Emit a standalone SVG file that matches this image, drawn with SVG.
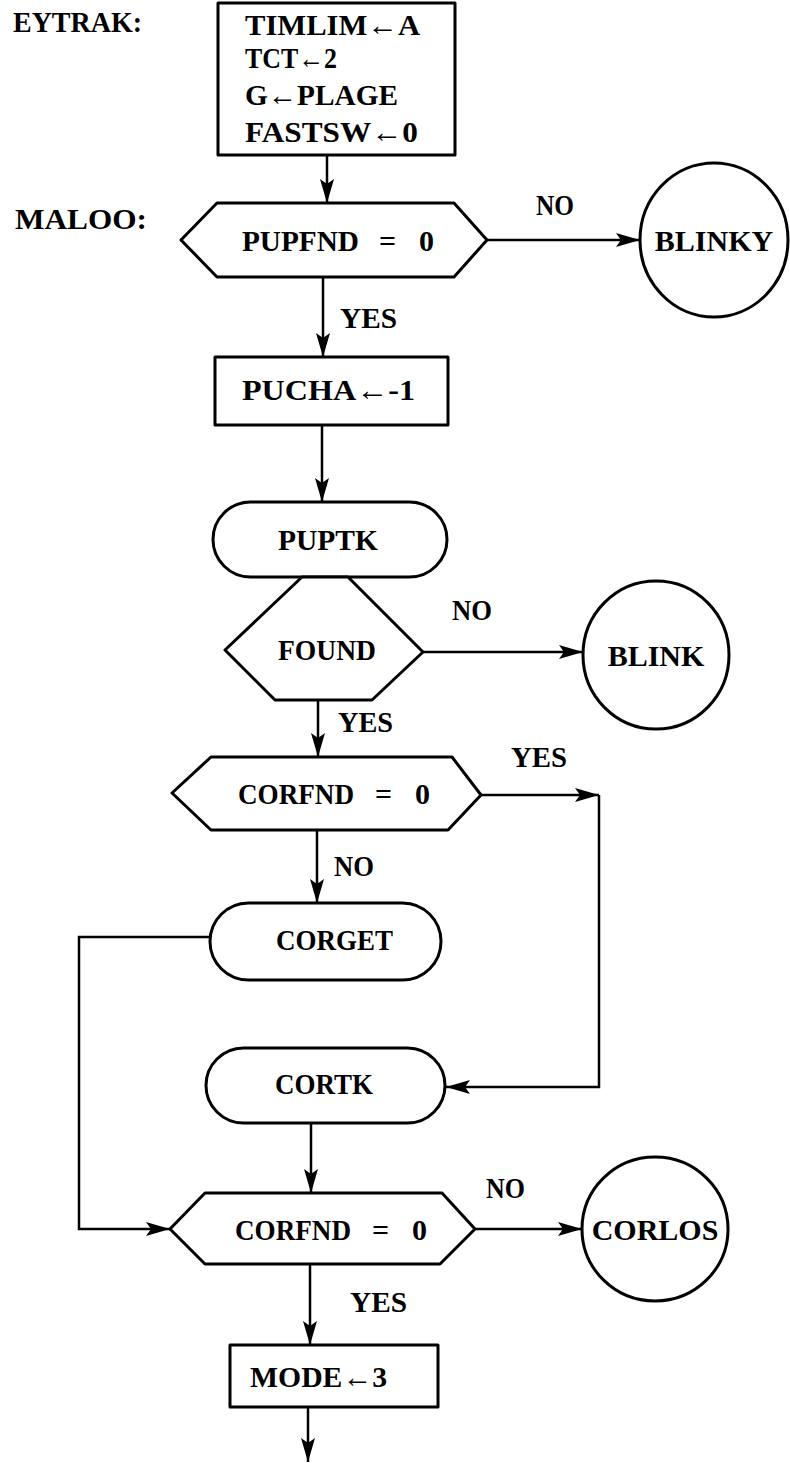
<svg xmlns="http://www.w3.org/2000/svg" width="790" height="1463" viewBox="0 0 790 1463">
<defs>
<marker id="ah" markerUnits="userSpaceOnUse" markerWidth="26" markerHeight="16" refX="24" refY="7" orient="auto">
<path d="M0,0 L24,7 L0,14 L5,7 z" fill="#000"/>
</marker>
<style>
.s{fill:#fff;stroke:#000;stroke-width:3;stroke-linejoin:round}
.c{fill:none;stroke:#000;stroke-width:2.5}
text{font-family:"Liberation Serif","DejaVu Serif",serif;font-weight:bold;font-size:30px;fill:#000}
.m{text-anchor:middle}
</style>
</defs>
<rect width="790" height="1463" fill="#fff"/>
<text x="13" y="32" textLength="129" lengthAdjust="spacingAndGlyphs">EYTRAK:</text>
<text x="15" y="229" textLength="132" lengthAdjust="spacingAndGlyphs">MALOO:</text>
<g id="connectors">
<path class="c" d="M327,155 V203" marker-end="url(#ah)"/>
<path class="c" d="M487,240 H640" marker-end="url(#ah)"/>
<path class="c" d="M323,277 V357" marker-end="url(#ah)"/>
<path class="c" d="M322,425 V502" marker-end="url(#ah)"/>
<path class="c" d="M423,652 H583" marker-end="url(#ah)"/>
<path class="c" d="M318,700 V757" marker-end="url(#ah)"/>
<path class="c" d="M481,795 H599" marker-end="url(#ah)"/>
<path class="c" d="M599,795 V1087 H446" marker-end="url(#ah)"/>
<path class="c" d="M317,830 V903" marker-end="url(#ah)"/>
<path class="c" d="M210,937 H79 V1229 H170" marker-end="url(#ah)"/>
<path class="c" d="M311,1123 V1193" marker-end="url(#ah)"/>
<path class="c" d="M475,1229 H582" marker-end="url(#ah)"/>
<path class="c" d="M310,1264 V1345" marker-end="url(#ah)"/>
<path class="c" d="M308,1407 V1462" marker-end="url(#ah)"/>
<text x="536" y="215" textLength="38" lengthAdjust="spacingAndGlyphs">NO</text>
<text x="340" y="328" textLength="57" lengthAdjust="spacingAndGlyphs">YES</text>
<text x="452" y="620" textLength="40" lengthAdjust="spacingAndGlyphs">NO</text>
<text x="338" y="732" textLength="55" lengthAdjust="spacingAndGlyphs">YES</text>
<text x="511" y="767" textLength="56" lengthAdjust="spacingAndGlyphs">YES</text>
<text x="334" y="876" textLength="40" lengthAdjust="spacingAndGlyphs">NO</text>
<text x="486" y="1198" textLength="39" lengthAdjust="spacingAndGlyphs">NO</text>
<text x="350" y="1312" textLength="57" lengthAdjust="spacingAndGlyphs">YES</text>
</g>
<g id="eytrak">
<rect class="s" x="218" y="3" width="237" height="152"/>
<text x="245" y="35" textLength="175" lengthAdjust="spacingAndGlyphs">TIMLIM←A</text>
<text x="245" y="68" textLength="92" lengthAdjust="spacingAndGlyphs">TCT←2</text>
<text x="245" y="105" textLength="153" lengthAdjust="spacingAndGlyphs">G←PLAGE</text>
<text x="245" y="142" textLength="173" lengthAdjust="spacingAndGlyphs">FASTSW←0</text>
</g>
<g id="pupfnd">
<polygon class="s" points="181,240 217,203 454,203 487,240 454,277 217,277"/>
<text y="251"><tspan x="242" textLength="117" lengthAdjust="spacingAndGlyphs">PUPFND</tspan> <tspan x="379">=</tspan> <tspan x="419">0</tspan></text>
</g>
<g id="blinky">
<ellipse class="s" cx="714" cy="240" rx="74" ry="77"/>
<text x="714" y="251" class="m">BLINKY</text>
</g>
<g id="pucha">
<rect class="s" x="215" y="357" width="233" height="68"/>
<text x="242" y="400" textLength="173" lengthAdjust="spacingAndGlyphs">PUCHA←-1</text>
</g>
<g id="puptk">
<rect class="s" x="213" y="502" width="234" height="75" rx="37.5"/>
<text x="278" y="550" textLength="100" lengthAdjust="spacingAndGlyphs">PUPTK</text>
</g>
<g id="found">
<polygon class="s" points="302,577 348,577 423,652 372,700 275,700 225,650"/>
<text x="278" y="660" textLength="98" lengthAdjust="spacingAndGlyphs">FOUND</text>
</g>
<g id="blink">
<ellipse class="s" cx="656" cy="655" rx="73" ry="74"/>
<text x="656" y="666" class="m">BLINK</text>
</g>
<g id="corfnd1">
<polygon class="s" points="172,793 211,757 452,757 481,795 448,830 211,830"/>
<text y="804"><tspan x="238" textLength="116" lengthAdjust="spacingAndGlyphs">CORFND</tspan> <tspan x="375">=</tspan> <tspan x="415">0</tspan></text>
</g>
<g id="corget">
<rect class="s" x="210" y="903" width="231" height="77" rx="38.5"/>
<text x="276" y="950" textLength="117" lengthAdjust="spacingAndGlyphs">CORGET</text>
</g>
<g id="cortk">
<rect class="s" x="206" y="1048" width="239" height="75" rx="37.5"/>
<text x="275" y="1094" textLength="98" lengthAdjust="spacingAndGlyphs">CORTK</text>
</g>
<g id="corfnd2">
<polygon class="s" points="170,1229 205,1193 442,1193 475,1229 440,1264 205,1264"/>
<text y="1240"><tspan x="235" textLength="116" lengthAdjust="spacingAndGlyphs">CORFND</tspan> <tspan x="372">=</tspan> <tspan x="412">0</tspan></text>
</g>
<g id="corlos">
<ellipse class="s" cx="655" cy="1229" rx="73" ry="72"/>
<text x="655" y="1240" class="m">CORLOS</text>
</g>
<g id="mode">
<rect class="s" x="230" y="1345" width="208" height="62"/>
<text x="250" y="1387" textLength="137" lengthAdjust="spacingAndGlyphs">MODE←3</text>
</g>
</svg>
